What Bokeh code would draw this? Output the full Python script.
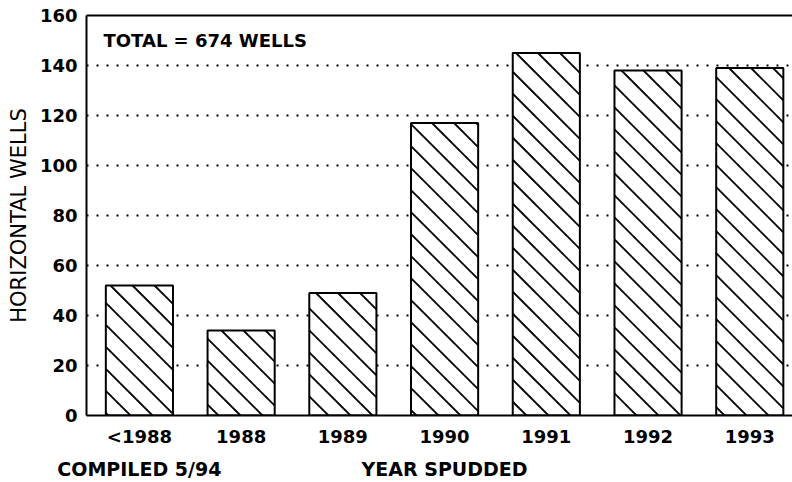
import math
from bokeh.plotting import figure
from bokeh.models import Range1d, FixedTicker, Label, ColumnDataSource, LinearAxis
from bokeh.embed import file_html
from bokeh.resources import INLINE

categories = ["<1988", "1988", "1989", "1990", "1991", "1992", "1993"]
wells = [52, 34, 49, 117, 145, 138, 139]
y_ticks = [0, 20, 40, 60, 80, 100, 120, 140, 160]
annotation = "TOTAL = 674 WELLS"
compiled = "COMPILED 5/94"
x_title = "YEAR SPUDDED"
y_title = "HORIZONTAL WELLS"

FONT = "DejaVu Sans"
W, H = 792, 482
BL, BT, BB = 86, 15, 67
X_START, X_END = -0.52, 6.42
Y_START, Y_END = 0, 160
BAR_W = 0.66
HATCH_STEP = 22  # px between hatch lines

idx = list(range(len(categories)))
src = ColumnDataSource(dict(x=idx, top=wells, cat=categories))

# 45-degree "\" hatch lines, computed from each bar's extent
frame_w = W - BL
frame_h = H - BT - BB
kx = frame_w / (X_END - X_START)
ky = frame_h / (Y_END - Y_START)
hx0, hy0, hx1, hy1 = [], [], [], []
for xi, h in zip(idx, wells):
    u1 = (xi - BAR_W / 2 - X_START) * kx
    u2 = (xi + BAR_W / 2 - X_START) * kx
    hh = h * ky
    for k in range(math.floor(u1 / HATCH_STEP), math.ceil((u2 + hh) / HATCH_STEP) + 1):
        c = k * HATCH_STEP
        a = max(u1, c - hh)
        b = min(u2, c)
        if b - a > 0.5:
            hx0.append(X_START + a / kx); hy0.append((c - a) / ky)
            hx1.append(X_START + b / kx); hy1.append((c - b) / ky)

p = figure(width=W, height=H, output_backend="svg", toolbar_location=None,
           x_range=Range1d(X_START, X_END), y_range=Range1d(Y_START, Y_END),
           min_border_left=BL, min_border_right=0, min_border_top=BT, min_border_bottom=BB)

p.vbar(x="x", top="top", width=BAR_W, source=src, fill_color="white", line_color=None)
p.segment(x0=hx0, y0=hy0, x1=hx1, y1=hy1, line_color="black", line_width=1.8)
p.vbar(x="x", top="top", width=BAR_W, source=src, fill_color=None,
       line_color="black", line_width=2)

p.background_fill_color = "white"
p.border_fill_color = "white"
p.outline_line_color = None

p.xgrid.visible = False
p.ygrid.ticker = FixedTicker(ticks=y_ticks[1:-1])
p.ygrid.grid_line_color = "black"
p.ygrid.grid_line_width = 2
p.ygrid.grid_line_dash = "2 8"

xa = p.xaxis[0]
xa.ticker = FixedTicker(ticks=idx)
xa.major_label_overrides = {i: c for i, c in zip(idx, categories)}
ya = p.yaxis[0]
ya.ticker = FixedTicker(ticks=y_ticks)
ya.axis_label = y_title

top_axis = LinearAxis(ticker=FixedTicker(ticks=[]), major_label_standoff=0,
                      major_tick_out=0, major_tick_in=0, axis_line_width=2,
                      axis_line_color="black")
p.add_layout(top_axis, "above")

# second row below the tick labels: footnote and axis title
xb = LinearAxis(ticker=FixedTicker(ticks=[0, 3]),
                major_label_overrides={0: compiled, 3: x_title},
                axis_line_color=None, major_tick_line_color=None,
                minor_tick_line_color=None, major_tick_out=0, major_tick_in=0,
                major_label_standoff=8, major_label_text_font=FONT,
                major_label_text_font_style="bold", major_label_text_font_size="19px",
                major_label_text_color="black")
p.add_layout(xb, "below")

for ax in (xa, ya):
    ax.axis_line_color = "black"
    ax.axis_line_width = 2
    ax.major_tick_line_color = None
    ax.minor_tick_line_color = None
    ax.major_tick_out = 0
    ax.major_tick_in = 0
    ax.major_label_text_font = FONT
    ax.major_label_text_font_style = "bold"
    ax.major_label_text_font_size = "18px"
    ax.major_label_text_color = "black"
xa.major_label_standoff = 10
ya.major_label_standoff = 9
ya.axis_label_standoff = 6
ya.axis_label_text_font = FONT
ya.axis_label_text_font_style = "normal"
ya.axis_label_text_font_size = "21px"
ya.axis_label_text_color = "black"

p.add_layout(Label(x=-0.353, y=154.2, text=annotation, text_font=FONT,
                   text_font_style="bold", text_font_size="18px", text_color="black",
                   text_baseline="top"))

open("out.html", "w").write(file_html(p, INLINE))
